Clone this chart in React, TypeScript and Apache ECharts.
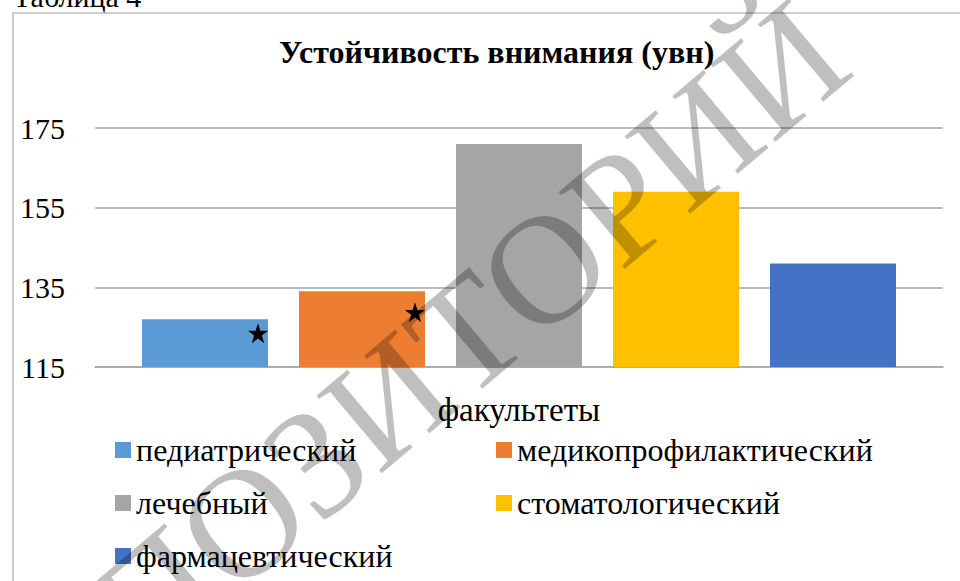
import React, { useEffect, useRef } from "react";
import * as echarts from "echarts";

const categories = ["факультеты"];
const seriesNames = [
  "педиатрический",
  "медикопрофилактический",
  "лечебный",
  "стоматологический",
  "фармацевтический",
];
const seriesValues = [127, 134, 171, 159, 141];
const seriesColors = ["#5b9bd5", "#ed7d31", "#a5a5a5", "#ffc000", "#4472c4"];
const starredSeries = [0, 1];
const legendColumn1 = ["педиатрический", "лечебный", "фармацевтический"];
const legendColumn2 = ["медикопрофилактический", "стоматологический"];
const yTicks = [115, 135, 155, 175];

const FONT = "Liberation Serif";
const STAR =
  "path://M50,0 L61.8,35.1 L98.9,35.1 L68.9,56.8 L80.3,91.9 L50,70.2 L19.7,91.9 L31.1,56.8 L1.1,35.1 L38.2,35.1 Z";

export default function App() {
  const ref = useRef<HTMLDivElement>(null);
  useEffect(() => {
    if (!ref.current) return;
    const chart = echarts.init(ref.current, undefined, { renderer: "svg" });
    const series = seriesNames.map((name, i) => ({
      name,
      type: "bar",
      data: [seriesValues[i]],
      barWidth: 126,
      barGap: "24.6%",
      itemStyle: { color: seriesColors[i] },
      markPoint: starredSeries.includes(i)
        ? {
            symbol: STAR,
            symbolSize: 20,
            symbolOffset: [53, i === 0 ? 14 : 21],
            itemStyle: { color: "#000" },
            label: { show: false },
            data: [{ coord: [0, seriesValues[i]] }],
          }
        : undefined,
    }));
    const legendCommon = {
      orient: "vertical",
      icon: "rect",
      itemWidth: 16,
      itemHeight: 16,
      itemGap: 21,
      padding: 0,
      top: 434,
      height: 140,
      selectedMode: false,
      textStyle: { fontFamily: FONT, fontSize: 32, color: "#000", lineHeight: 30 },
    };
    chart.setOption({
      animation: false,
      backgroundColor: "#fff",
      title: {
        text: "Устойчивость внимания (увн)",
        left: 279,
        top: 36,
        padding: 0,
        textStyle: { fontFamily: FONT, fontSize: 32, fontWeight: "bold", color: "#000" },
      },
      legend: [
        { ...legendCommon, left: 115, data: legendColumn1 },
        { ...legendCommon, left: 496, data: legendColumn2 },
      ],
      grid: { left: 95, right: 17, top: 128, bottom: 214, containLabel: false },
      xAxis: {
        type: "category",
        data: categories,
        axisTick: { show: false },
        axisLine: { show: true, lineStyle: { color: "#a6a6a6", width: 1.5 } },
        axisLabel: { fontFamily: FONT, fontSize: 33, color: "#000", margin: 26 },
      },
      yAxis: {
        type: "value",
        min: yTicks[0],
        max: yTicks[yTicks.length - 1],
        interval: 20,
        axisLine: { show: false },
        axisTick: { show: false },
        axisLabel: { fontFamily: FONT, fontSize: 30, color: "#000", margin: 30 },
        splitLine: { lineStyle: { color: "#a6a6a6", width: 1.5 } },
      },
      series,
      graphic: [
        {
          type: "rect",
          silent: true,
          shape: { x: 13, y: 13, width: 1000, height: 700 },
          style: { fill: "none", stroke: "#bfbfbf", lineWidth: 1.5 },
          z: -1,
        },
        {
          type: "text",
          silent: true,
          style: {
            text: "Таблица 4",
            x: 13,
            y: 11,
            verticalAlign: "bottom",
            fontFamily: FONT,
            fontSize: 30,
            fill: "#000",
          },
        },
        {
          type: "text",
          silent: true,
          x: 400,
          y: 390,
          rotation: 0.7,
          z: 100,
          style: {
            text: "РЕПОЗИТОРИЙ",
            x: 0,
            y: 0,
            align: "center",
            verticalAlign: "middle",
            fontFamily: FONT,
            fontSize: 155,
            fill: "rgba(0,0,0,0.25)",
          },
        },
      ],
    });
    return () => chart.dispose();
  }, []);
  return (
    <div
      ref={ref}
      style={{ position: "fixed", left: 0, top: 0, width: 960, height: 581 }}
    />
  );
}
